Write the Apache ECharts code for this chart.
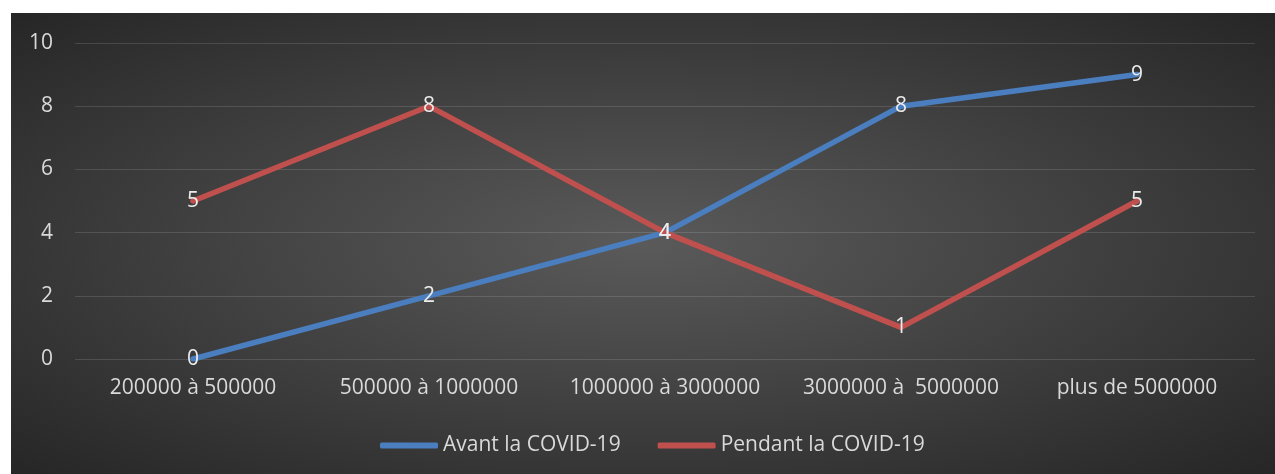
<!DOCTYPE html>
<html>
<head>
<meta charset="utf-8">
<script src="https://cdn.jsdelivr.net/npm/echarts@6/dist/echarts.min.js"></script>
<style>
html,body{margin:0;padding:0;background:#ffffff;width:1275px;height:474px;overflow:hidden;}
#wrap{position:absolute;left:11px;top:13px;width:1264px;height:461px;
background:radial-gradient(ellipse farthest-corner at 50% 50%, #5a5a5a 0%, #484848 35%, #262626 100%);}
#chart{width:1264px;height:461px;}
</style>
</head>
<body>
<div id="wrap"><div id="chart"></div></div>
<script>
var categories = ['200000 à 500000', '500000 à 1000000', '1000000 à 3000000', '3000000 à  5000000', 'plus de 5000000'];
var avantValues = [0, 2, 4, 8, 9];
var pendantValues = [5, 8, 4, 1, 5];
var seriesNames = ['Avant la COVID-19', 'Pendant la COVID-19'];

var FONT = '"Open Sans", sans-serif';
var chart = echarts.init(document.getElementById('chart'), null, {renderer: 'canvas'});
function mkSeries(name, data, color) {
  return {
    name: name,
    type: 'line',
    data: data,
    symbol: 'circle',
    symbolSize: 1,
    showSymbol: true,
    lineStyle: {color: color, width: 5.5, cap: 'round', join: 'round'},
    itemStyle: {color: color},
    label: {show: true, position: 'inside', color: '#ececec', fontSize: 21, fontFamily: FONT},
    emphasis: {disabled: true},
    animation: false
  };
}
chart.setOption({
  backgroundColor: 'transparent',
  animation: false,
  grid: {left: 64, right: 20, top: 30, height: 316, containLabel: false},
  legend: {
    data: seriesNames,
    left: 369,
    top: 422,
    padding: 0,
    itemWidth: 58,
    itemHeight: 6,
    itemGap: 37,
    icon: 'roundRect',
    textStyle: {color: '#d9d9d9', fontSize: 21, fontFamily: FONT}
  },
  xAxis: {
    type: 'category',
    data: categories,
    boundaryGap: true,
    axisLine: {show: false},
    axisTick: {show: false},
    axisLabel: {color: '#d9d9d9', fontSize: 21, fontFamily: FONT, margin: 19, interval: 0}
  },
  yAxis: {
    type: 'value',
    min: 0,
    max: 10,
    interval: 2,
    axisLine: {show: false},
    axisTick: {show: false},
    axisLabel: {color: '#d9d9d9', fontSize: 21, fontFamily: FONT, margin: 22},
    splitLine: {lineStyle: {color: 'rgba(255,255,255,0.13)', width: 1}}
  },
  series: [
    mkSeries(seriesNames[0], avantValues, '#4a7ebf'),
    mkSeries(seriesNames[1], pendantValues, '#c0504d')
  ]
});
</script>
</body>
</html>
